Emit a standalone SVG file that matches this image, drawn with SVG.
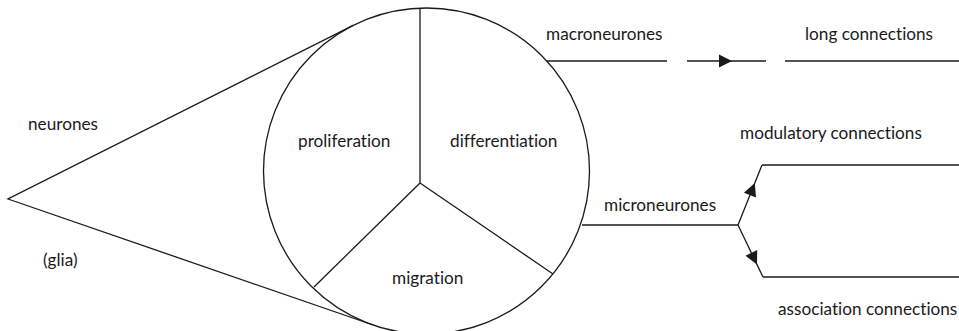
<svg xmlns="http://www.w3.org/2000/svg" width="959" height="331" viewBox="0 0 959 331">
<style>
  .ln { fill: none; stroke: #1a1a1a; stroke-width: 1.3; }
  .lbl { font-family: Lato, "Open Sans", "Liberation Sans", sans-serif; font-size: 17.2px; fill: #1a1a1a; font-variant-ligatures: none; }
</style>
<defs>
  <marker id="arr" markerUnits="userSpaceOnUse" markerWidth="16" markerHeight="16" viewBox="-14 -8 16 16" refX="0" refY="0" orient="auto">
    <path d="M-13,-6.5 L0,0 L-13,6.5 Z" fill="#1a1a1a"/>
  </marker>
</defs>
<rect width="959" height="331" fill="#ffffff"/>

<g id="neurones-cone">
  <path class="ln" d="M353.2,25.4 L8,199 L373.2,325"/>
  <text class="lbl" x="28" y="130">neurones</text>
  <text class="lbl" x="43" y="266">(glia)</text>
</g>

<g id="development-circle">
  <circle class="ln" cx="426.5" cy="171" r="163"/>
  <path class="ln" d="M420,8 L420,183 M420,183 L314,287 M420,183 L553,274"/>
  <text class="lbl" x="298" y="147">proliferation</text>
  <text class="lbl" x="450" y="147">differentiation</text>
  <text class="lbl" x="392" y="284">migration</text>
</g>

<g id="macroneurones">
  <text class="lbl" x="546" y="40">macroneurones</text>
</g>

<g id="long-connections">
  <text class="lbl" x="805" y="40">long connections</text>
</g>

<g id="microneurones">
  <text class="lbl" x="604" y="211">microneurones</text>
</g>

<g id="modulatory-connections">
  <text class="lbl" x="740" y="139">modulatory connections</text>
</g>

<g id="association-connections">
  <text class="lbl" x="778" y="315">association connections</text>
</g>

<g id="connectors">
  <path class="ln" d="M547,61 L667,61"/>
  <path class="ln" d="M687,61 L732,61 L766,61" marker-mid="url(#arr)"/>
  <path class="ln" d="M785,61 L959,61"/>
  <path class="ln" d="M582,225 L738,225"/>
  <path class="ln" d="M738,225 L754.8,183 L762,165" marker-mid="url(#arr)"/>
  <path class="ln" d="M762,165 L959,165"/>
  <path class="ln" d="M738,225 L757,264.6 L763,277" marker-mid="url(#arr)"/>
  <path class="ln" d="M763,277 L959,277"/>
</g>
</svg>
